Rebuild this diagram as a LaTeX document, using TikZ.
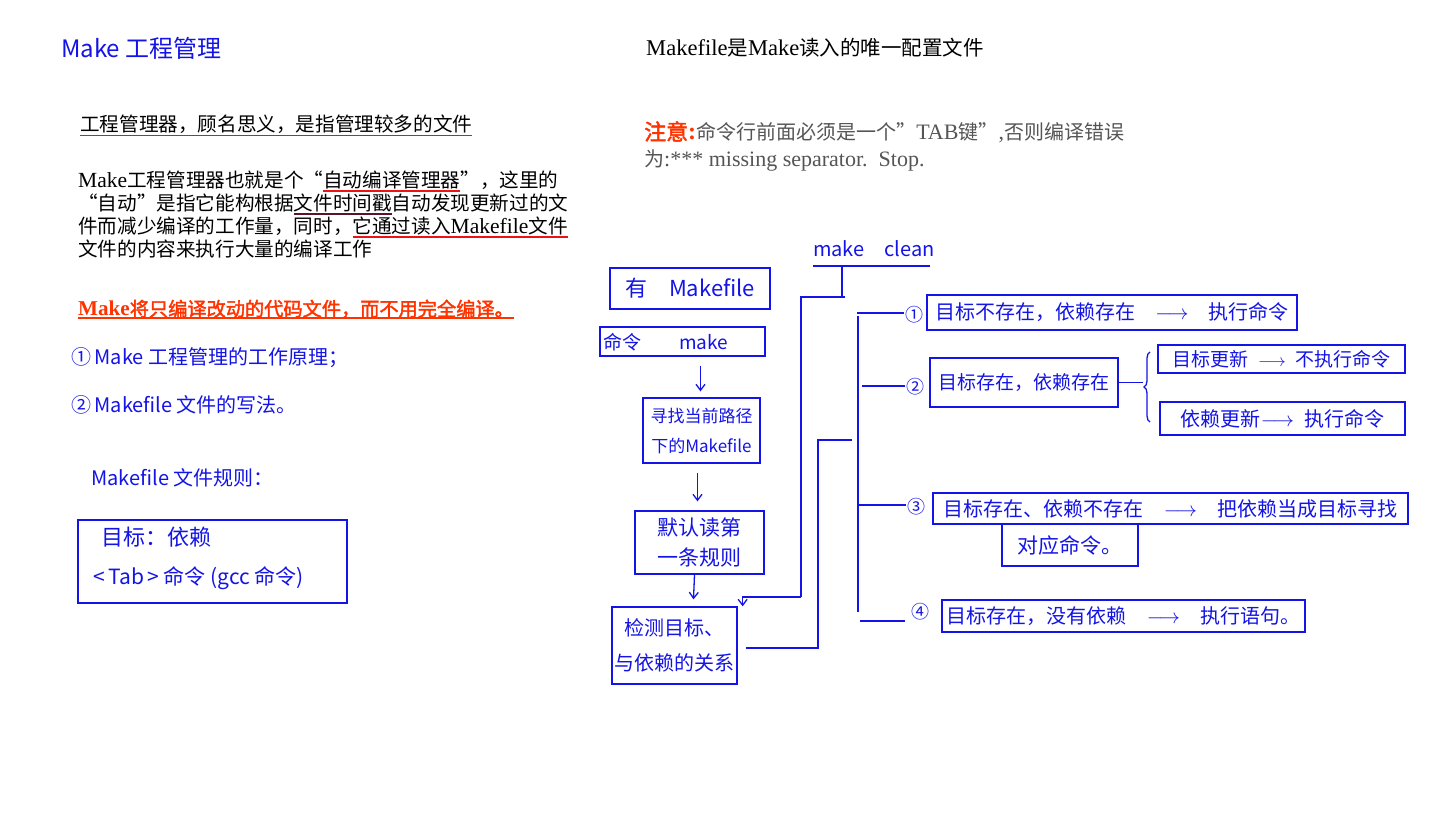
\documentclass[tikz,border=0pt]{standalone}
\usepackage{fontspec}
\setmainfont{Noto Sans CJK SC}
\newfontfamily\tm[Scale=1.1]{Liberation Serif}
\newfontfamily\cjkb[FakeBold=2]{Noto Sans CJK SC}
\usetikzlibrary{arrows.meta,decorations.pathreplacing,calc}
\definecolor{hand}{RGB}{20,20,230}
\definecolor{ulred}{RGB}{235,20,20}
\definecolor{uldark}{RGB}{90,20,40}
\definecolor{warnred}{RGB}{255,51,0}
\definecolor{grayt}{RGB}{85,85,85}
\newcommand\T[1]{{\tm #1}}
\newcommand\fs[2]{\fontsize{#1}{#2}\selectfont}
\newcommand\fq[1]{{\addfontfeatures{CharacterWidth=Full}#1}}
\newsavebox\ulbox
\newcommand\ulc[4]{\sbox\ulbox{#4}\rlap{\textcolor{#1}{\rule[-#2]{\wd\ulbox}{#3}}}\usebox\ulbox}
\begin{document}
\begin{tikzpicture}[x=1pt,y=-1pt,
  hand/.style={text=hand, inner sep=1pt},
  hbox/.style={draw=hand, line width=1.3pt, inner sep=0pt, text=hand, align=center},
  hline/.style={draw=hand, line width=1.3pt},
  ptext/.style={anchor=base west, inner sep=0pt},
  harrow/.style={hline, -{Straight Barb[length=6pt,width=9pt]}}]
\useasboundingbox[fill=white] (0,0) rectangle (1440,818);

% ---------------- left column ----------------
\node[hand, anchor=west, font=\fs{24}{28}] (title) at (60,48) {Make\ 工程管理};

\node[ptext, font=\fs{19.6}{23}] (t1) at (80,132)
  {\ulc{ulred}{4.5pt}{1.5pt}{工程管理器，顾名思义，是指管理较多的文件}};

\node[ptext, font=\fs{19.6}{23}] (p1) at (78,188)
  {\T{Make}工程管理器也就是个\fq{“}\ulc{ulred}{4pt}{1.5pt}{自动编译管理器}\fq{”}，这里的};
\node[ptext, font=\fs{19.6}{23}] (p2) at (78,211)
  {\fq{“}自动\fq{”}是指它能构根据\ulc{uldark}{4pt}{1.5pt}{文件时间戳}自动发现更新过的文};
\node[ptext, font=\fs{19.6}{23}] (p3) at (78,234)
  {件而减少编译的工作量，同时，\ulc{ulred}{4pt}{1.5pt}{它通过读入\T{Makefile}文件}};
\node[ptext, font=\fs{19.6}{23}] (p4) at (78,257)
  {文件的内容来执行大量的编译工作};

\node[ptext, font=\fs{19.2}{23}, text=warnred] (warn) at (78,316)
  {\ulc{warnred}{3pt}{2pt}{{\tm\bfseries Make}{\cjkb 将只编译改动的代码文件，而不用完全编译。}}};

\node[hand, anchor=west, font=\fs{20}{24}] (h1) at (70,358) {①\,Make\ 工程管理的工作原理；};
\node[hand, anchor=west, font=\fs{20}{24}] (h2) at (70,405) {②\,Makefile\ 文件的写法。};
\node[hand, anchor=west, font=\fs{20}{24}] (h3) at (90,478) {Makefile\ 文件规则：};

\node[hbox, minimum width=269pt, minimum height=83pt] (rulebox) at (212.5,561.5) {};
\node[hand, anchor=west, font=\fs{22}{26}] (rt1) at (100,537) {目标：依赖};
\node[hand, anchor=west, font=\fs{21}{25}] (rt2) at (92,578) {<\,Tab\,>\ 命令\ (gcc\ 命令)};

% ---------------- right top text ----------------
\node[ptext, font=\fs{20.5}{24}] (r1) at (646,56) {\T{Makefile}是\T{Make}读入的唯一配置文件};
\node[ptext, font=\fs{20}{24}] (r2) at (644,140)
  {{\color{warnred}\fs{22}{26}\cjkb 注意\T{\bfseries :}}{\color{grayt}命令行前面必须是一个\fq{”}\T{TAB}键\fq{”}\T{,}否则编译错误}};
\node[ptext, font=\fs{20}{24}, text=grayt] (r3) at (644,167) {为\T{:*** missing separator.\ \ Stop.}};

% ---------------- flow chart ----------------
\node[hbox, minimum width=160pt, minimum height=41pt, font=\fs{22}{26}] (mf) at (690,288.5) {有\quad Makefile};
\node[hbox, minimum width=165pt, minimum height=29pt] (cmd) at (682.5,341.5) {};
\node[hand, anchor=west, font=\fs{19}{23}] (cmdt) at (602,342) {命令\qquad make};
\node[hbox, minimum width=117pt, minimum height=65pt, font=\fs{17}{30}] (find) at (701.5,430.5) {寻找当前路径\\下的Makefile};
\node[hbox, minimum width=129pt, minimum height=63pt, font=\fs{21}{30}] (read) at (699.5,542.5) {默认读第\\一条规则};
\node[hbox, minimum width=125pt, minimum height=77pt, font=\fs{20}{35}] (check) at (674.5,645.5) {检测目标、\\与依赖的关系};

\draw[harrow] ($(cmd.south -| find.north)+(-1,9)$) -- ($(find.north)+(-1,-6)$);
\draw[harrow] ($(find.south)+(-4,9)$) -- ($(read.north)+(-2,-9)$);
\draw[harrow] ($(read.south)+(-5,0)$) -- ($(check.north)+(19,-7)$);

% make clean
\node[hand, font=\fs{20}{24}] (mc) at (874,249) {make\quad clean};
\coordinate (mcL) at (813,266);
\coordinate (mcR) at (930,266);
\coordinate (mcj) at (842,266);
\coordinate (cl1) at (845,297);
\coordinate (cl2) at (801,297);
\coordinate (cl3) at (801,597);
\draw[hline] (mcL) -- (mcR);
\draw[hline] (mcj) -- (mcj |- cl1);
\draw[hline] (cl1) -- (cl2) -- (cl3);
\draw[harrow] (cl3) -| ($(check.north east)+(5,0)$);

% check -> branches
\coordinate (ck1) at (818,648);
\coordinate (ck2) at (818,440);
\coordinate (ck3) at (852,440);
\draw[hline] ($(check.east |- ck1)+(8,0)$) -- (ck1) -- (ck2) -- (ck3);
\coordinate (sp1) at (858,316);
\coordinate (sp2) at (858,612);
\draw[hline] (sp1) -- (sp2);

% numbers
\node[hand, font=\fs{18}{22}] (n1) at (914,315) {①};
\node[hand, font=\fs{18}{22}] (n2) at (915,387) {②};
\node[hand, font=\fs{18}{22}] (n3) at (916,507) {③};
\node[hand, font=\fs{18}{22}] (n4) at (920,612) {④};
\coordinate (l1) at (857,313);
\coordinate (l2) at (862,386);
\coordinate (l3) at (858,505);
\coordinate (l4a) at (860,621);
\coordinate (l4b) at (905,621);
\draw[hline] (l1) -- (l1 -| n1.west);
\draw[hline] (l2) -- (l2 -| n2.west);
\draw[hline] (l3) -- (l3 -| n3.west);
\draw[hline] (l4a) -- (l4b);

% branch boxes
\node[hbox, minimum width=370pt, minimum height=35pt, font=\fs{20}{24}] (b1) at (1112,312.5)
  {目标不存在，依赖存在\quad$\longrightarrow$\quad 执行命令};
\node[hbox, minimum width=188pt, minimum height=49pt, font=\fs{19}{23}] (b2) at (1024,382.5)
  {目标存在，依赖存在};
\coordinate (br1) at (1150,422);
\coordinate (br2) at (1150,352);
\draw[hline, decorate, decoration={brace, amplitude=6pt}] (br1) -- (br2);
\coordinate (brt) at (1143,386);
\draw[hline] (b2.east) -- (b2.east -| brt);
\node[hbox, minimum width=247pt, minimum height=28pt, font=\fs{19}{23}] (s1) at (1281.5,359)
  {目标更新\enspace$\longrightarrow$\enspace 不执行命令};
\node[hbox, minimum width=245pt, minimum height=33pt, font=\fs{20}{24}] (s2) at (1282.5,418.5)
  {依赖更新$\longrightarrow$\enspace 执行命令};
\node[hbox, minimum width=475pt, minimum height=31pt, font=\fs{20}{24}] (b3) at (1170.5,508.5)
  {目标存在、依赖不存在\quad$\longrightarrow$\quad 把依赖当成目标寻找};
\node[hbox, minimum width=136pt, minimum height=42pt, font=\fs{21}{25}] (b3c) at (1070,545)
  {对应命令。};
\node[hbox, minimum width=363pt, minimum height=32pt, font=\fs{20}{24}] (b4) at (1123.5,616)
  {目标存在，没有依赖\quad$\longrightarrow$\quad 执行语句。};
\end{tikzpicture}
\end{document}
